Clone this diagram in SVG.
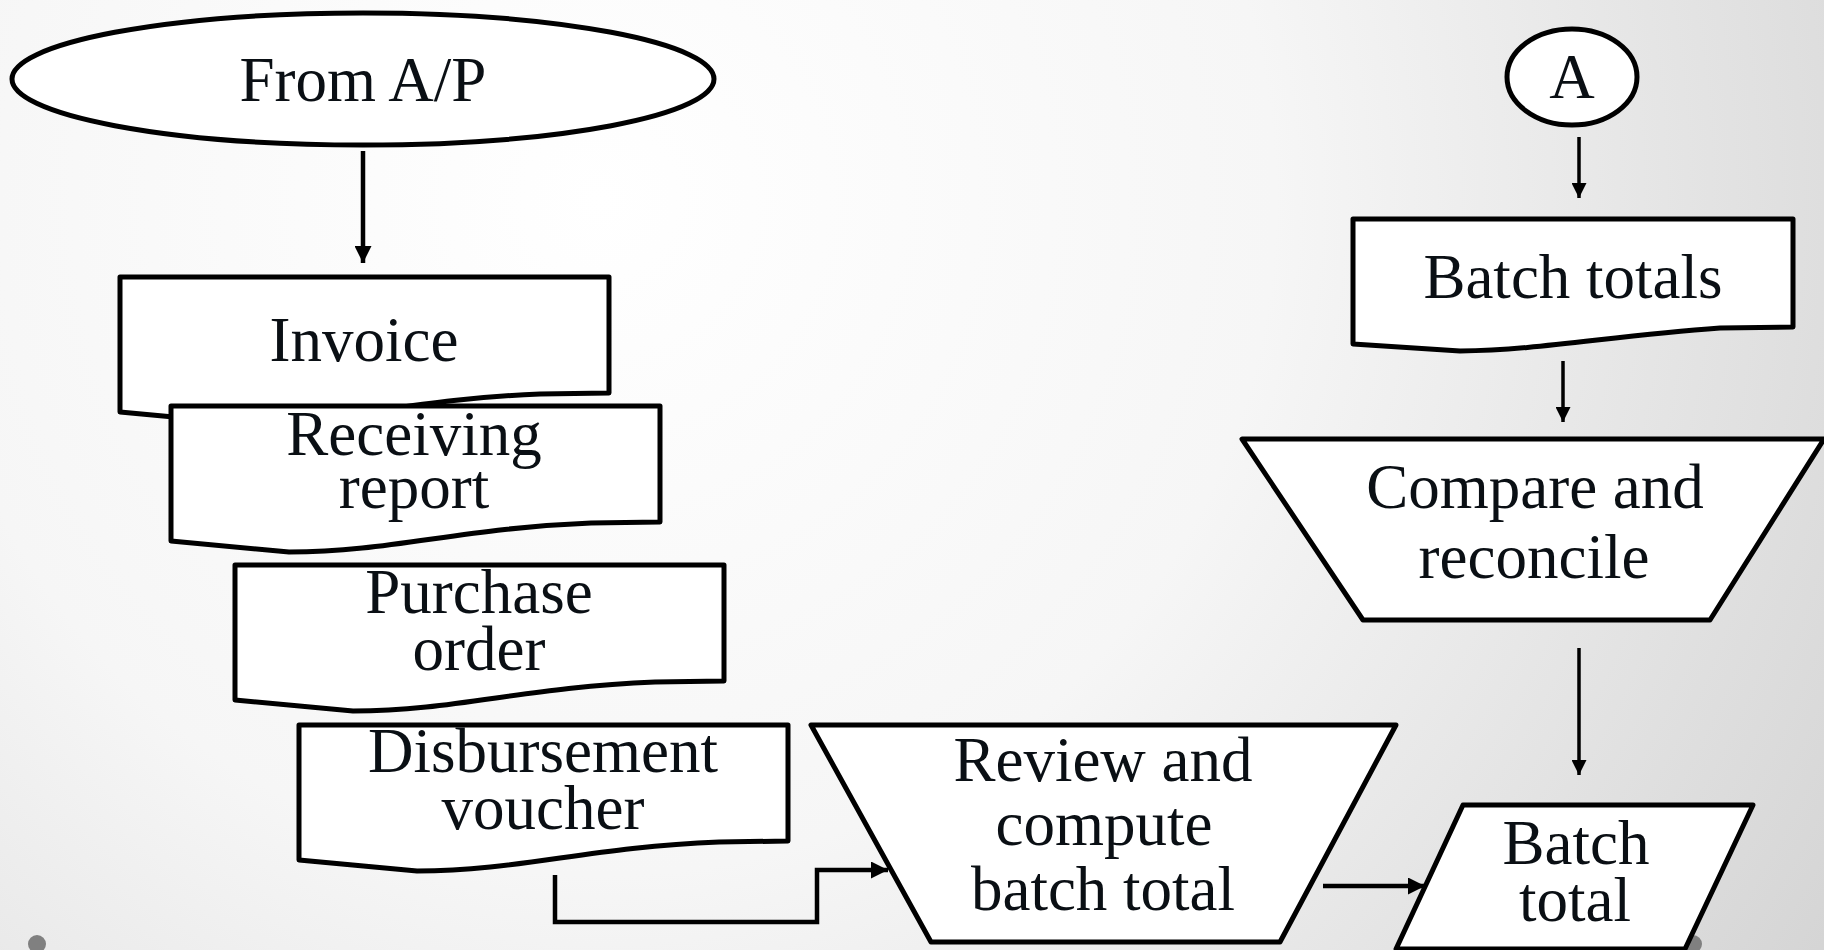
<svg xmlns="http://www.w3.org/2000/svg" width="1824" height="950" viewBox="0 0 1824 950">
<defs>
<radialGradient id="bg" cx="600" cy="200" r="1500" gradientUnits="userSpaceOnUse">
<stop offset="0" stop-color="#ffffff"/>
<stop offset="0.45" stop-color="#f6f6f6"/>
<stop offset="1" stop-color="#d2d2d2"/>
</radialGradient>
<marker id="ah" viewBox="0 0 10 10" refX="10" refY="5" markerWidth="20" markerHeight="17" markerUnits="userSpaceOnUse" orient="auto">
<path d="M0,0 L10,5 L0,10 Z" fill="#000"/>
</marker>
<marker id="ahs" viewBox="0 0 10 10" refX="10" refY="5" markerWidth="17" markerHeight="15" markerUnits="userSpaceOnUse" orient="auto">
<path d="M0,0 L10,5 L0,10 Z" fill="#000"/>
</marker>
<path id="doc" d="M0,135 L118,146 C220,146 290,122 420,117 L489,116 V0 H0 Z"/>
</defs>
<style>
.shape{fill:#fff;stroke:#000;stroke-width:5;stroke-linejoin:round}
.t{font-family:"Liberation Serif","Times New Roman",serif;font-size:63px;fill:#0a0f14;text-anchor:middle}
.c{fill:none;stroke:#000;stroke-width:4.5}
.cs{fill:none;stroke:#000;stroke-width:3.5}
</style>
<rect x="0" y="0" width="1824" height="950" fill="url(#bg)"/>
<circle cx="37" cy="944" r="9" fill="#808080"/>
<circle cx="1693" cy="944" r="9" fill="#808080"/>

<g id="from-ap">
<ellipse class="shape" cx="363" cy="79" rx="351" ry="66"/>
<text class="t" x="363" y="101">From A/P</text>
</g>

<g id="invoice">
<use href="#doc" class="shape" x="120" y="277"/>
<text class="t" x="364" y="361">Invoice</text>
</g>

<g id="receiving-report">
<use href="#doc" class="shape" x="171" y="406"/>
<text class="t" x="414" y="455">Receiving</text>
<text class="t" x="414" y="508">report</text>
</g>

<g id="purchase-order">
<use href="#doc" class="shape" x="235" y="565"/>
<text class="t" x="479" y="613">Purchase</text>
<text class="t" x="479" y="670">order</text>
</g>

<g id="disbursement-voucher">
<use href="#doc" class="shape" x="299" y="725"/>
<text class="t" x="543" y="772">Disbursement</text>
<text class="t" x="543" y="829">voucher</text>
</g>

<g id="review">
<polygon class="shape" points="811,725 1396,725 1280,942 931,942"/>
<text class="t" x="1103" y="781">Review and</text>
<text class="t" x="1104" y="845">compute</text>
<text class="t" x="1103" y="910">batch total</text>
</g>

<g id="batch-total">
<polygon class="shape" points="1463,805 1753,805 1685,949 1396,949"/>
<text class="t" x="1576" y="864">Batch</text>
<text class="t" x="1575" y="921">total</text>
</g>

<g id="connector-a">
<ellipse class="shape" cx="1572" cy="77" rx="65" ry="48"/>
<text class="t" x="1572" y="98">A</text>
</g>

<g id="batch-totals">
<path class="shape" d="M1353,344 L1460,351 C1540,350 1610,336 1720,328 L1793,327 V219 H1353 Z"/>
<text class="t" x="1573" y="298">Batch totals</text>
</g>

<g id="compare">
<polygon class="shape" points="1242,439 1824,439 1710,620 1363,620"/>
<text class="t" x="1535" y="508">Compare and</text>
<text class="t" x="1534" y="578">reconcile</text>
</g>

<g id="connectors">
<line class="c" x1="363" y1="151" x2="363" y2="263" marker-end="url(#ah)"/>
<polyline class="c" points="555,875 555,922 817,922 817,870 888,870" marker-end="url(#ah)"/>
<line class="c" x1="1323" y1="886" x2="1425" y2="886" marker-end="url(#ah)"/>
<line class="cs" x1="1579" y1="137" x2="1579" y2="198" marker-end="url(#ahs)"/>
<line class="cs" x1="1563" y1="361" x2="1563" y2="422" marker-end="url(#ahs)"/>
<line class="cs" x1="1579" y1="648" x2="1579" y2="775" marker-end="url(#ahs)"/>
</g>
</svg>
